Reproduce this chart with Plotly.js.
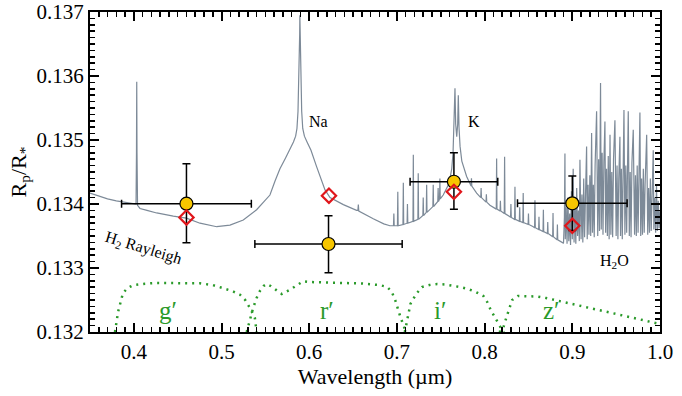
<!DOCTYPE html>
<html>
<head>
<meta charset="utf-8">
<script src="https://cdn.plot.ly/plotly-3.0.1.min.js"></script>
<style>html,body{margin:0;padding:0;background:#fff;}#chart{width:682px;height:396px;}</style>
</head>
<body>
<div id="chart"></div>
<script>
// ---- Model transmission spectrum ----
const modelX = [
0.350,0.360,0.370,0.380,0.390,0.398,0.4025,0.4030,0.4033,0.4036,0.4042,0.407,0.415,0.426,0.445,0.460,0.4754,0.4945,0.5096,0.5248,0.540,0.5552,0.5610,0.5666,0.5730,0.578,0.5820,0.5845,0.5860,0.5872,0.5880,0.5887,0.5891,0.5893,0.5896,0.5900,0.5906,0.5914,0.5926,0.5945,0.5975,0.6020,0.6085,0.6135,0.618,0.6237,0.6389,0.654,0.6555,0.656,0.6565,0.673,0.685,0.692,
0.6961,0.6965,0.6969,0.7006,0.7010,0.7014,0.7069,0.7073,0.7077,0.7116,0.7120,0.7124,0.7183,0.7187,0.7191,0.7239,0.7243,0.7247,0.7296,0.7300,0.7304,0.7335,0.7339,0.7343,0.7410,0.7414,0.7418,0.7466,0.7470,0.7474,0.7486,0.7490,0.7494,0.7528,0.7580,0.7605,0.7625,0.7640,0.7652,0.7662,0.7670,0.7682,0.7693,0.7700,0.7708,0.7720,0.7740,0.7765,0.7795,
0.7846,0.7850,0.7854,0.7909,0.7956,0.7960,0.7964,0.8016,0.8020,0.8024,0.8061,0.8133,0.8137,0.8141,0.8176,0.8180,0.8184,0.8224,0.8228,0.8232,0.8289,0.8296,0.8300,0.8304,0.8342,0.8346,0.8350,0.8396,0.8400,0.8404,0.8436,0.8440,0.8444,0.8496,0.8500,0.8504,0.8555,0.8570,0.8574,0.8578,0.8616,0.8620,0.8624,0.8666,0.8670,0.8674,0.8716,0.8720,0.8724,0.8745,0.8776,0.8780,0.8784,0.8826,0.8830,0.8834,0.8897,
0.890,0.891,0.8916,0.892,0.893,0.894,0.895,0.896,0.897,0.898,0.899,0.900,0.901,0.902,0.903,0.904,0.905,0.906,0.907,0.908,0.9087,0.910,0.911,0.912,0.913,0.914,0.915,0.9163,0.917,0.918,0.919,0.920,0.921,0.922,0.923,0.924,0.925,0.926,0.9277,0.929,0.930,0.931,0.9322,0.933,0.934,0.935,0.936,0.9372,0.938,0.939,0.940,0.941,0.942,0.943,0.944,0.945,0.946,0.947,0.9486,0.950,0.951,0.952,0.953,0.9543,0.955,0.956,0.957,0.958,0.9589,0.960,0.961,0.962,0.9638,0.965,0.966,0.967,0.968,0.9695,0.971,0.972,0.973,0.974,0.975,0.9771,0.978,0.979,0.980,0.981,0.982,0.983,0.9848,0.986,0.987,0.988,0.989,0.990,0.991,0.9923,0.993,0.994,0.995,0.996,0.997,0.998,0.999,1.000
];
const modelY = [
0.13417,0.13412,0.13408,0.13405,0.13403,0.13401,0.13400,0.13480,0.13591,0.13480,0.13398,0.13393,0.13390,0.13386,0.13381,0.13378,0.13370,0.133645,0.13367,0.13375,0.13391,0.13414,0.13436,0.13455,0.13472,0.13485,0.13497,0.13506,0.13518,0.13545,0.13580,0.13625,0.13665,0.13695,0.13665,0.13625,0.13580,0.13545,0.13518,0.13506,0.13497,0.13484,0.13458,0.13440,0.13422,0.13410,0.13399,0.13390,0.13390,0.13399,0.13389,0.13377,0.13369,0.13366,
0.13366,0.13385,0.13366,0.13366,0.13419,0.13366,0.13368,0.13433,0.13368,0.13370,0.13400,0.13370,0.13373,0.13477,0.13373,0.13376,0.13448,0.13376,0.13382,0.13410,0.13382,0.13387,0.13430,0.13387,0.13396,0.13430,0.13396,0.13404,0.13425,0.13404,0.13408,0.13440,0.13408,0.13414,0.13428,0.13440,0.13455,0.13480,0.13520,0.13581,0.13525,0.13505,0.13525,0.13570,0.13520,0.13490,0.13467,0.13455,0.13443,
0.13428,0.13440,0.13428,0.13417,0.13410,0.13425,0.13410,0.13403,0.13415,0.13403,0.13398,0.13392,0.13471,0.13392,0.13389,0.13405,0.13389,0.13385,0.13474,0.13385,0.13380,0.13379,0.13400,0.13379,0.13376,0.13427,0.13376,0.13373,0.13395,0.13373,0.13371,0.13417,0.13371,0.13368,0.13385,0.13368,0.133645,0.13363,0.13406,0.13363,0.13360,0.13380,0.13360,0.13357,0.13391,0.13357,0.13354,0.13372,0.13354,0.13352,0.13349,0.13386,0.13349,0.13344,0.13368,0.13344,0.13339,
0.13340,0.13380,0.13479,0.13345,0.13395,0.13338,0.13410,0.13342,0.13385,0.13336,0.13420,0.13345,0.13455,0.13340,0.13400,0.13338,0.13425,0.13350,0.13390,0.13342,0.13469,0.13345,0.13415,0.13340,0.13440,0.13348,0.13410,0.13490,0.13345,0.13430,0.13352,0.13445,0.13350,0.13511,0.13355,0.13430,0.13348,0.13460,0.13545,0.13350,0.13470,0.13358,0.13589,0.13360,0.13480,0.13352,0.13465,0.13529,0.13355,0.13455,0.13350,0.13475,0.13345,0.13508,0.13352,0.13450,0.13348,0.13470,0.13531,0.13350,0.13460,0.13345,0.13440,0.13505,0.13350,0.13455,0.13345,0.13470,0.13547,0.13352,0.13460,0.13355,0.13545,0.13350,0.13450,0.13348,0.13465,0.13516,0.13352,0.13445,0.13350,0.13460,0.13355,0.13543,0.13350,0.13440,0.13352,0.13455,0.13355,0.13430,0.13508,0.13352,0.13425,0.13355,0.13440,0.13358,0.13420,0.13484,0.13360,0.13410,0.13355,0.13430,0.13358,0.13405,0.13362,0.13390
];

// ---- Measured radius ratios ----
const obsX = [0.460, 0.622, 0.765, 0.900];
const obsY = [0.134005, 0.133375, 0.134348, 0.134011];
const obsYerrPlus = [0.000625, 0.00044, 0.000453, 0.000427];
const obsYerrMinus = [0.00061, 0.00045, 0.00043, 0.000427];
const obsXerr = [0.074, 0.084, 0.050, 0.0625];

// ---- Binned model ----
const binX = [0.460, 0.6225, 0.765, 0.900];
const binY = [0.13379, 0.13413, 0.13419, 0.13366];

// ---- Filter transmission curves (scaled) ----
const gX = [0.3785,0.382,0.3876,0.393,0.399,0.405,0.4127,0.425,0.44,0.455,0.4754,0.49,0.5017,0.512,0.521,0.527,0.5324,0.536,0.538,0.540];
const gY = [0.13200,0.132313,0.132609,0.132688,0.13273,0.132742,0.132755,0.132766,0.132766,0.132766,0.132761,0.132734,0.132688,0.132641,0.132583,0.1325,0.132375,0.132281,0.132219,0.13200];
const rX = [0.5287,0.532,0.536,0.540,0.5438,0.548,0.5515,0.556,0.5686,0.578,0.586,0.593,0.600,0.620,0.640,0.660,0.680,0.689,0.694,0.698,0.704,0.709];
const rY = [0.13200,0.132188,0.132375,0.132531,0.132641,0.132719,0.13275,0.132719,0.132594,0.132661,0.132734,0.132792,0.132781,0.132773,0.132766,0.132758,0.132734,0.132703,0.13263,0.1325,0.132234,0.132047];
const iX = [0.709,0.712,0.7154,0.722,0.7285,0.737,0.746,0.755,0.7636,0.772,0.781,0.790,0.7986,0.803,0.807,0.812,0.816,0.820,0.822];
const iY = [0.13200,0.132188,0.132438,0.132594,0.132703,0.132734,0.13275,0.132742,0.132727,0.132703,0.132672,0.132625,0.132563,0.132469,0.132344,0.132219,0.132125,0.132031,0.13200];
const zX = [0.8165,0.8205,0.825,0.8314,0.838,0.845,0.851,0.860,0.870,0.880,0.890,0.905,0.920,0.935,0.950,0.965,0.975,0.988,1.000];
const zY = [0.13200,0.132031,0.132234,0.1325,0.132563,0.132563,0.132563,0.132555,0.132531,0.132500,0.132469,0.132430,0.132375,0.132328,0.132281,0.132234,0.132203,0.132164,0.132125];

const filterNames = ['g\u2032','r\u2032','i\u2032','z\u2032'];
const filterLabelX = [0.439, 0.620, 0.749, 0.876];
const filterLabelY = [0.13233, 0.13233, 0.13233, 0.13233];

const serif = 'Liberation Serif';
const green = '#2a9a2a';

function filt(x, y) {
  return {x: x, y: y, mode: 'lines', line: {color: green, width: 2.5, dash: '2px,5px'}, hoverinfo: 'skip', showlegend: false};
}

const traces = [
  filt(gX, gY), filt(rX, rY), filt(iX, iY), filt(zX, zY),
  {x: modelX, y: modelY, mode: 'lines', line: {color: '#7d8a98', width: 1.2}, showlegend: false},
  {x: obsX, y: obsY, mode: 'markers', showlegend: false,
   marker: {symbol: 'circle', size: 13, color: '#f7c600', line: {color: '#000', width: 1.2}},
   error_y: {type: 'data', symmetric: false, array: obsYerrPlus, arrayminus: obsYerrMinus, color: '#000', thickness: 1.5, width: 4},
   error_x: {type: 'data', array: obsXerr, color: '#000', thickness: 1.5, width: 4}},
  {x: binX, y: binY, mode: 'markers', showlegend: false,
   marker: {symbol: 'diamond-open', size: 11, color: '#e0161b', line: {color: '#e0161b', width: 2.2}}}
];

const annotations = [
  {x: 0.611, y: 0.13529, text: 'Na', showarrow: false, font: {family: serif, size: 16, color: '#000'}},
  {x: 0.7878, y: 0.13529, text: 'K', showarrow: false, font: {family: serif, size: 16, color: '#000'}},
  {x: 0.9486, y: 0.1331, text: 'H<sub>2</sub>O', showarrow: false, font: {family: serif, size: 16, color: '#000'}},
  {x: 0.4108, y: 0.13331, text: 'H<sub>2</sub> Rayleigh', textangle: 17, showarrow: false, font: {family: serif, size: 16, color: '#000'}}
];
for (let i = 0; i < filterNames.length; i++) {
  annotations.push({x: filterLabelX[i], y: filterLabelY[i], text: filterNames[i], showarrow: false,
    font: {family: serif, size: 25, color: green}});
}

const axisCommon = {
  showline: true, linecolor: '#000', linewidth: 2, mirror: 'allticks',
  ticks: 'inside', ticklen: 9, tickwidth: 2, tickcolor: '#000',
  showgrid: false, zeroline: false,
  tickfont: {family: serif, size: 21, color: '#000'}
};

const layout = {
  width: 682, height: 396,
  margin: {l: 90, r: 22, t: 12, b: 64},
  paper_bgcolor: '#fff', plot_bgcolor: '#fff',
  showlegend: false,
  font: {family: serif},
  xaxis: Object.assign({}, axisCommon, {
    range: [0.35, 1.0], dtick: 0.1, tick0: 0.4, tickformat: '.1f',
    minor: {ticks: 'inside', ticklen: 5, tickwidth: 1.5, tickcolor: '#000', dtick: 0.01, showgrid: false},
    title: {text: 'Wavelength (\u00b5m)', font: {family: serif, size: 22, color: '#000'}, standoff: 2}
  }),
  yaxis: Object.assign({}, axisCommon, {
    range: [0.132, 0.137], dtick: 0.001, tickformat: '.3f',
    minor: {ticks: 'inside', ticklen: 5, tickwidth: 1.5, tickcolor: '#000', dtick: 0.0001, showgrid: false},
    title: {text: 'R<sub>p</sub>/R<sub>*</sub>', font: {family: serif, size: 22, color: '#000'}, standoff: 4}
  }),
  annotations: annotations
};

Plotly.newPlot('chart', traces, layout, {displayModeBar: false, staticPlot: true});
</script>
</body>
</html>
